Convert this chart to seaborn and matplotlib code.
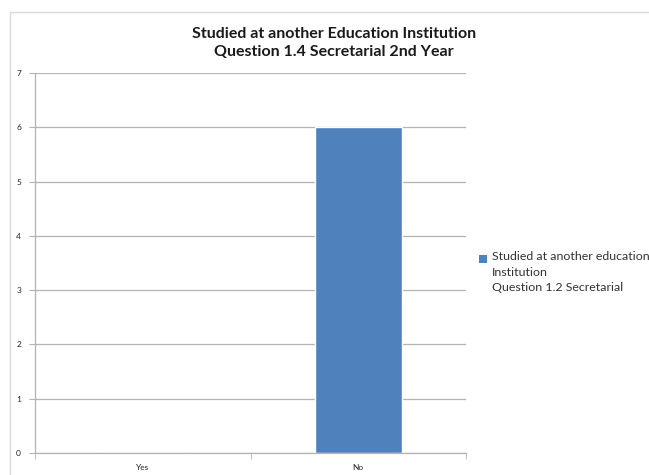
import matplotlib
matplotlib.use("Agg")
import matplotlib.pyplot as plt
from matplotlib.patches import Rectangle
import seaborn as sns
import pandas as pd

categories = ["Yes", "No"]
values = [0, 6]
series_name = "Studied at another education\nInstitution\nQuestion 1.2 Secretarial"
title_text = "Studied at another Education Institution\nQuestion 1.4 Secretarial 2nd Year"
y_ticks = [0, 1, 2, 3, 4, 5, 6, 7]
bar_color = "#4F81BD"

sns.set_style("white")
plt.rcParams["font.family"] = ["Lato", "DejaVu Sans"]

df = pd.DataFrame({"category": categories, "count": values})

W, H = 649, 475
fig = plt.figure(figsize=(W / 100, H / 100), dpi=100)

# outer chart frame
fig.patches.append(Rectangle((10 / W, -0.05), 1.1, 1 - 12 / H + 0.05,
                             transform=fig.transFigure, fill=False,
                             edgecolor="#d9d9d9", linewidth=1.0))

ax = fig.add_axes([35 / W, 22 / H, (466 - 35) / W, (453 - 73) / H])
sns.barplot(data=df, x="category", y="count", color=bar_color,
            width=0.405, saturation=1, ax=ax)

ax.set_ylim(0, 7)
ax.set_yticks(y_ticks)
ax.set_xlim(-0.5, 1.5)
ax.set_xlabel("")
ax.set_ylabel("")
ax.yaxis.grid(True, color="#b3b3b3", linewidth=0.9)
ax.set_axisbelow(True)
for s in ["top", "right"]:
    ax.spines[s].set_visible(False)
for s in ["left", "bottom"]:
    ax.spines[s].set_color("#b3b3b3")
    ax.spines[s].set_linewidth(0.9)

ax.tick_params(axis="y", which="both", length=4, color="#b3b3b3",
               labelsize=6, pad=6, left=True, labelcolor="#222222")
ax.tick_params(axis="x", which="major", length=0, labelsize=6, pad=8,
               labelcolor="#222222")
# category separator ticks on the x axis
ax.set_xticks([-0.5, 0.5, 1.5], minor=True)
ax.tick_params(axis="x", which="minor", length=4, color="#b3b3b3", bottom=True)

fig.text(334 / W, 1 - 43 / H, title_text, ha="center", va="center",
         fontsize=11.5, fontweight="bold", color="#1a1a1a", linespacing=1.4)

# legend: swatch beside the first line of the series name
fig.patches.append(Rectangle((479 / W, 1 - 263 / H), 8 / W, 8 / H,
                             transform=fig.transFigure, facecolor=bar_color,
                             edgecolor="none"))
fig.text(492 / W, 1 - 251 / H, series_name, ha="left", va="top",
         fontsize=8.9, color="#333333", linespacing=1.5)

fig.savefig("out.png", dpi=100)
